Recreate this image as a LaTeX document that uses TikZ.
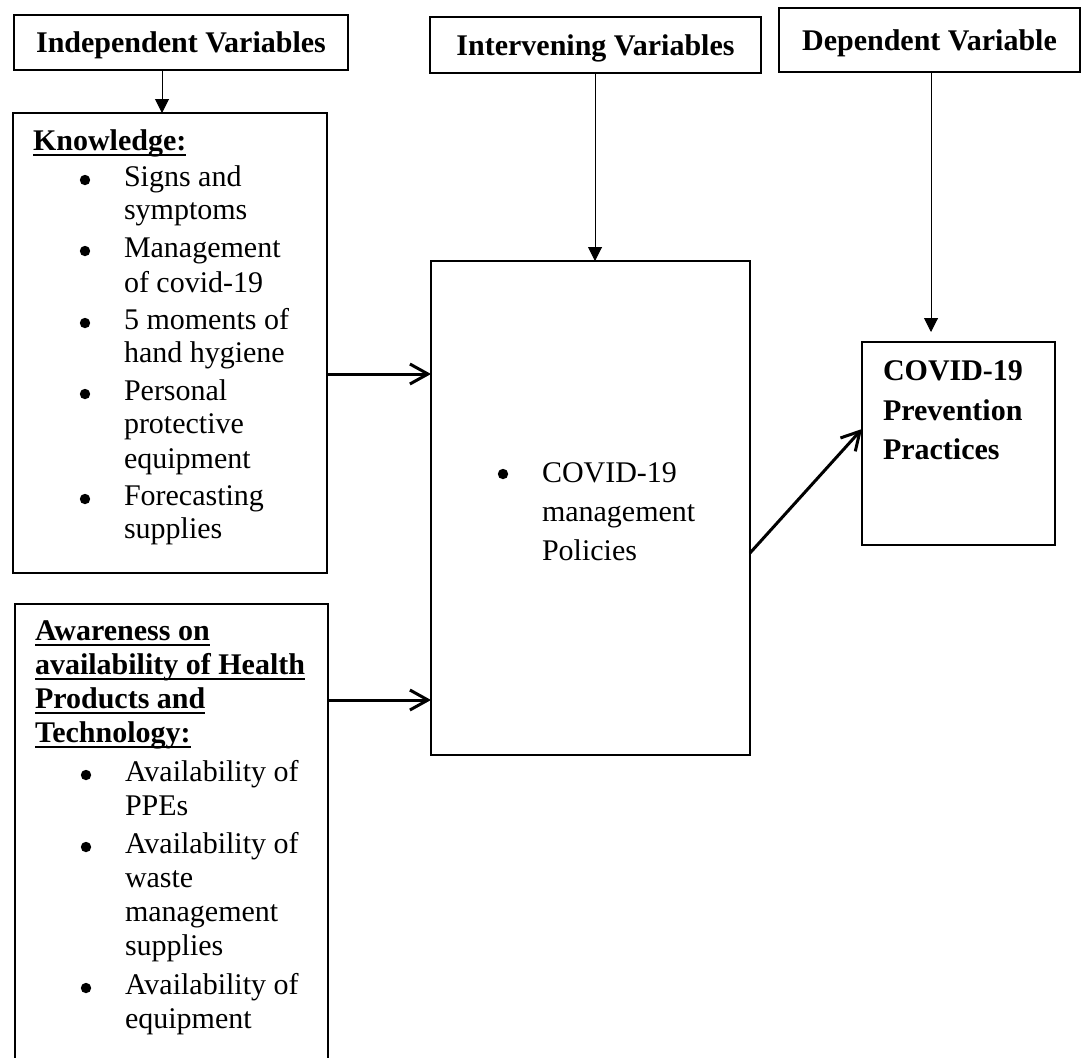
\documentclass[tikz,border=0pt]{standalone}
\usepackage{fontspec}
\setmainfont{Liberation Serif}
\usetikzlibrary{arrows.meta}
\newcommand\myfs{\fontsize{15pt}{17pt}\selectfont}
\begin{document}
\begin{tikzpicture}[x=0.5pt,y=-0.5pt,
  box/.style={draw, line width=1pt, inner sep=0pt, outer sep=0pt, anchor=north west},
  title/.style={box, font=\myfs\bfseries, text height=10pt, text depth=0pt, align=center},
  txt/.style={inner sep=0pt, outer sep=0pt, anchor=base west, font=\myfs},
  btxt/.style={txt, font=\myfs\bfseries},
  uline/.style={line width=1.1pt},
  bul/.style={fill=black},
  thinarrow/.style={line width=0.5pt, -{Triangle[length=7pt,width=7pt]}},
  thickarrow/.style={line width=1.5pt, -{Straight Barb[length=9pt,width=10pt]}},
]
\useasboundingbox (0,0) rectangle (1082,1057);
\clip (0,0) rectangle (1082,1057);
\fill[white] (0,0) rectangle (1082,1057);

% title boxes
\node[title, minimum width=167pt, minimum height=27.5pt] (iv) at (14,15) {Independent Variables};
\node[title, minimum width=165.5pt, minimum height=28pt] (inter) at (430,17) {Intervening Variables};
\node[title, minimum width=150.5pt, minimum height=32pt] (dep) at (779,8) {Dependent Variable};

% main boxes
\node[box, minimum width=157pt, minimum height=230pt] (know) at (13,113) {};
\node[box, minimum width=156.5pt, minimum height=248pt] (aware) at (15,604) {};
\node[box, minimum width=159.5pt, minimum height=247pt] (policy) at (431,261) {};
\node[box, minimum width=96.5pt, minimum height=101.5pt] (prev) at (862,342) {};

% Knowledge text
\node[btxt] (kh) at (33,150) {Knowledge:};
\draw[uline] ([yshift=-2.5pt]kh.base west) -- ([yshift=-2.5pt]kh.base east);
\node[txt] (k1) at (124,186) {Signs and};
\node[txt] (k2) at (124,219) {symptoms};
\node[txt] (k3) at (124,257) {Management};
\node[txt] (k4) at (124,292) {of covid-19};
\node[txt] (k5) at (124,329) {5 moments of};
\node[txt] (k6) at (124,362) {hand hygiene};
\node[txt] (k7) at (124,400) {Personal};
\node[txt] (k8) at (124,433) {protective};
\node[txt] (k9) at (124,468) {equipment};
\node[txt] (k10) at (124,505) {Forecasting};
\node[txt] (k11) at (124,538) {supplies};
\foreach \yy in {180,251,323,394,499} \fill[bul] (85,\yy) circle (2.6pt);

% Awareness text
\node[btxt] (ah1) at (35,640) {Awareness on};
\node[btxt] (ah2) at (35,674) {availability of Health};
\node[btxt] (ah3) at (35,708) {Products and};
\node[btxt] (ah4) at (35,742) {Technology:};
\foreach \n in {ah1,ah2,ah3,ah4}
  \draw[uline] ([yshift=-2.3pt]\n.base west) -- ([yshift=-2.3pt]\n.base east);
\node[txt] (a1) at (125,781) {Availability of};
\node[txt] (a2) at (125,815) {PPEs};
\node[txt] (a3) at (125,853) {Availability of};
\node[txt] (a4) at (125,887) {waste};
\node[txt] (a5) at (125,921) {management};
\node[txt] (a6) at (125,955) {supplies};
\node[txt] (a7) at (125,994) {Availability of};
\node[txt] (a8) at (125,1028) {equipment};
\foreach \yy in {775,847,988} \fill[bul] (86,\yy) circle (2.6pt);

% Policy text
\fill[bul] (503,474) circle (2.6pt);
\node[txt] (p1) at (542,482) {COVID-19};
\node[txt] (p2) at (542,521) {management};
\node[txt] (p3) at (542,560) {Policies};

% Prevention text
\node[btxt] (q1) at (883,380) {COVID-19};
\node[btxt] (q2) at (883,420) {Prevention};
\node[btxt] (q3) at (883,459) {Practices};

% connectors
\coordinate (xiv) at (162,0);
\coordinate (xin) at (595,0);
\coordinate (xdp) at (931,0);
\coordinate (y1) at (0,374);
\coordinate (y2) at (0,700);
\coordinate (y3) at (0,553);
\coordinate (y4) at (0,429);
\draw[thinarrow] (iv.south -| xiv) -- (know.north -| xiv);
\draw[thinarrow] (inter.south -| xin) -- (policy.north -| xin);
\draw[thinarrow, shorten >=5pt] (dep.south -| xdp) -- (prev.north -| xdp);
\draw[thickarrow] (know.east |- y1) -- (policy.west |- y1);
\draw[thickarrow] (aware.east |- y2) -- (policy.west |- y2);
\draw[thickarrow] (policy.east |- y3) -- (prev.west |- y4);
\end{tikzpicture}
\end{document}
